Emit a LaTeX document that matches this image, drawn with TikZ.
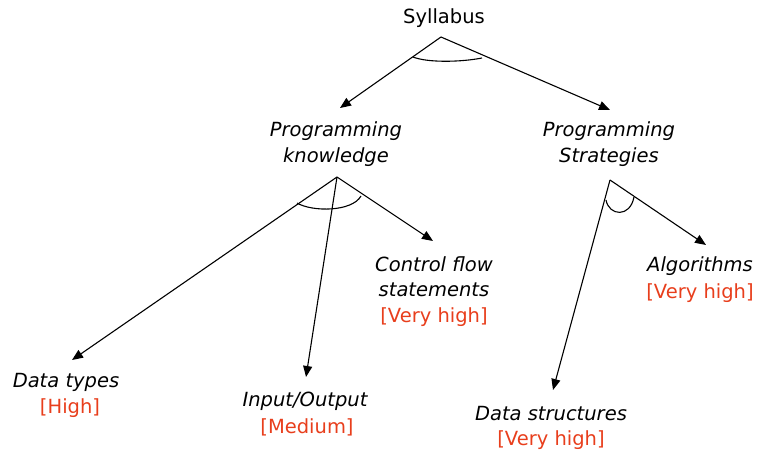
\documentclass[tikz,border=0pt]{standalone}
\usepackage{fontspec}
\setmainfont{DejaVu Sans}
\usetikzlibrary{arrows.meta}
\definecolor{lvl}{RGB}{232,62,28}
\begin{document}
\begin{tikzpicture}[x=1pt,y=-1pt,
  lab/.style={font=\fontsize{19.5}{26}\selectfont\itshape, align=center, inner sep=0pt},
  rate/.style={font=\fontsize{19.5}{26}\selectfont, text=lvl, inner sep=0pt},
  edge/.style={line width=1.1pt, -{Triangle[length=11pt,width=9pt]}},
  arcl/.style={line width=1.1pt}]
\useasboundingbox (0,0) rectangle (760,455);
% texts
\node[font=\fontsize{19.5}{26}\selectfont, inner sep=0pt] (syl) at (444,18) {Syllabus};
\node[lab] (pk1) at (336,131) {Programming};
\node[lab] (pk2) at (336,157) {knowledge};
\node[lab] (ps1) at (609,131) {Programming};
\node[lab] (ps2) at (609,157) {Strategies};
\node[lab] (cf1) at (434,264) {Control flow};
\node[lab] (cf2) at (434,290) {statements};
\node[rate] (cf3) at (434,317) {[Very high]};
\node[lab] (al1) at (700,266) {Algorithms};
\node[rate] (al2) at (700,293) {[Very high]};
\node[lab] (dt1) at (66,382) {Data types};
\node[rate] (dt2) at (70,408) {[High]};
\node[lab] (io1) at (305,401) {Input/Output};
\node[rate] (io2) at (307,427) {[Medium]};
\node[lab] (ds1) at (551,414) {Data structures};
\node[rate] (ds2) at (551,440) {[Very high]};
% apexes and tips
\coordinate (a0) at (441,37);
\coordinate (a1) at (337,177);
\coordinate (a2) at (610,180);
\coordinate (t1) at (340,108);
\coordinate (t2) at (610,110);
\coordinate (t3) at (72,360);
\coordinate (t4) at (306,377);
\coordinate (t5) at (433,241);
\coordinate (t6) at (706,245);
\coordinate (t7) at (553,390);
% connectors
\draw[edge] (a0) -- (t1);
\draw[edge] (a0) -- (t2);
\draw[edge] (a1) -- (t3);
\draw[edge] (a1) -- (t4);
\draw[edge] (a1) -- (t5);
\draw[edge] (a2) -- (t6);
\draw[edge] (a2) -- (t7);
% arcs
\draw[arcl] (413,57) .. controls (428,63) and (462,62) .. (482,58);
\draw[arcl] (297,203) .. controls (312,212) and (352,212) .. (361,196);
\draw[arcl] (606,200) .. controls (609,216) and (630,218) .. (634,197);
\end{tikzpicture}
\end{document}
